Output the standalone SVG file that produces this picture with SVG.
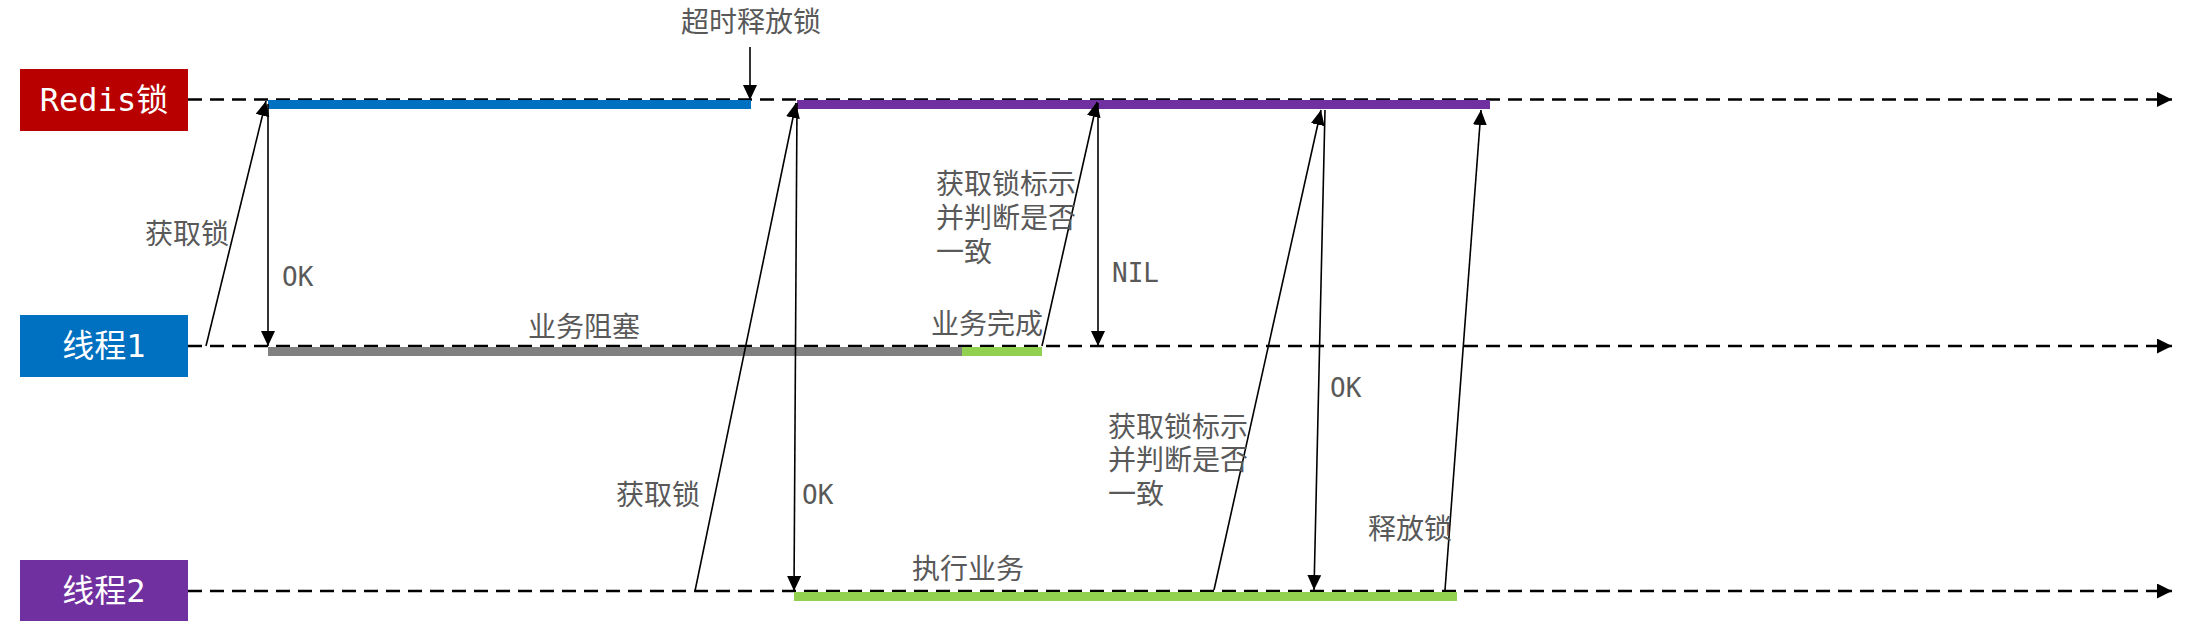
<svg xmlns="http://www.w3.org/2000/svg" width="2208" height="621" viewBox="0 0 2208 621">
<style>
.box-text{font-family:"DejaVu Sans Mono","Noto Sans CJK SC",monospace;font-size:32px;fill:#ffffff;text-anchor:middle;dominant-baseline:central}
.lbl{font-family:"Noto Sans CJK SC","Noto Sans",sans-serif;font-size:28px;fill:#595959;dominant-baseline:central}
.mono{font-family:"DejaVu Sans Mono","Liberation Mono",monospace;font-size:26px;fill:#595959;dominant-baseline:central}
.life{stroke:#000;stroke-width:2.5;stroke-dasharray:14 8;fill:none}
.msg{stroke:#000;stroke-width:1.6;fill:none;marker-end:url(#ah)}
</style>
<defs>
<marker id="ah" markerUnits="userSpaceOnUse" markerWidth="16" markerHeight="16" refX="15" refY="7" orient="auto">
<path d="M0,0 L15,7 L0,14 z" fill="#000"/>
</marker>
<marker id="lh" markerUnits="userSpaceOnUse" markerWidth="16" markerHeight="16" refX="15" refY="7.5" orient="auto">
<path d="M0,0 L15,7.5 L0,15 z" fill="#000"/>
</marker>
</defs>
<rect width="2208" height="621" fill="#ffffff"/>
<g id="lifelines">
<line class="life" x1="188" y1="99.5" x2="2172" y2="99.5" marker-end="url(#lh)"/>
<line class="life" x1="188" y1="346" x2="2172" y2="346" marker-end="url(#lh)"/>
<line class="life" x1="188" y1="591" x2="2172" y2="591" marker-end="url(#lh)"/>
</g>
<g id="bars">
<rect x="268" y="100" width="483" height="9" fill="#0070C0"/>
<rect x="797" y="100" width="693" height="9" fill="#7030A0"/>
<rect x="268" y="347" width="694" height="9" fill="#808080"/>
<rect x="962" y="347" width="80" height="9" fill="#92D050"/>
<rect x="794" y="592" width="663" height="9" fill="#92D050"/>
</g>
<g id="node-redis">
<rect x="20" y="69" width="168" height="62" fill="#B80000"/>
<text class="box-text" x="104" y="100">Redis锁</text>
</g>
<g id="node-thread1">
<rect x="20" y="315" width="168" height="62" fill="#0070C0"/>
<text class="box-text" x="104" y="346">线程1</text>
</g>
<g id="node-thread2">
<rect x="20" y="560" width="168" height="61" fill="#7030A0"/>
<text class="box-text" x="104" y="591">线程2</text>
</g>
<g id="connectors">
<line class="msg" x1="206" y1="346" x2="266" y2="101"/>
<line class="msg" x1="268" y1="104" x2="268" y2="346"/>
<line class="msg" x1="750" y1="47" x2="750" y2="100"/>
<line class="msg" x1="695" y1="591" x2="796" y2="103"/>
<line class="msg" x1="797" y1="103" x2="794" y2="591"/>
<line class="msg" x1="1042" y1="346" x2="1097" y2="102"/>
<line class="msg" x1="1098" y1="103" x2="1098" y2="346"/>
<line class="msg" x1="1214" y1="590" x2="1321" y2="110"/>
<line class="msg" x1="1325" y1="110" x2="1314" y2="590"/>
<line class="msg" x1="1445" y1="590" x2="1481" y2="110"/>
</g>
<g id="labels">
<text class="lbl" x="681" y="20">超时释放锁</text>
<text class="lbl" x="145" y="232">获取锁</text>
<text class="mono" x="282" y="277">OK</text>
<text class="lbl" x="528" y="325">业务阻塞</text>
<text class="lbl" x="936" y="182"><tspan x="936" y="182">获取锁标示</tspan><tspan x="936" y="216">并判断是否</tspan><tspan x="936" y="250">一致</tspan></text>
<text class="mono" x="1112" y="273">NIL</text>
<text class="lbl" x="931" y="322">业务完成</text>
<text class="lbl" x="616" y="493">获取锁</text>
<text class="mono" x="802" y="495">OK</text>
<text class="lbl" x="912" y="567">执行业务</text>
<text class="lbl" x="1108" y="425"><tspan x="1108" y="425">获取锁标示</tspan><tspan x="1108" y="458">并判断是否</tspan><tspan x="1108" y="492">一致</tspan></text>
<text class="mono" x="1330" y="388">OK</text>
<text class="lbl" x="1368" y="527">释放锁</text>
</g>
</svg>
